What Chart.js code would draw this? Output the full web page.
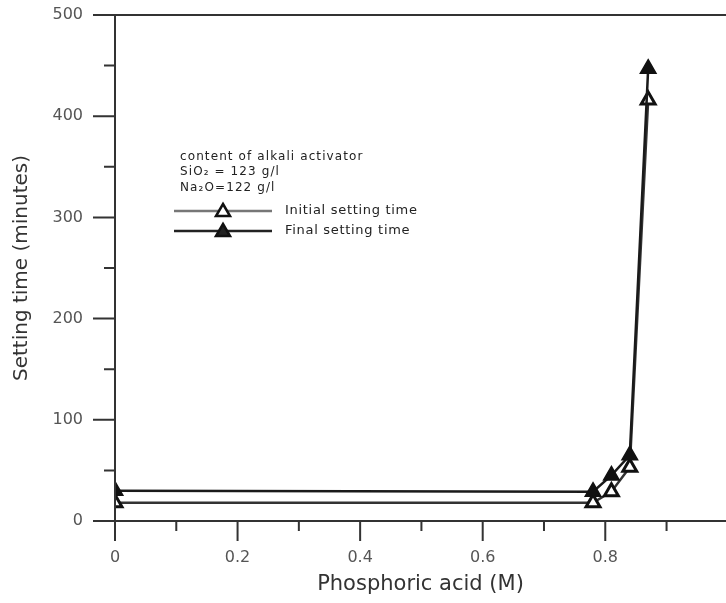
<!DOCTYPE html>
<html>
<head>
<meta charset="utf-8">
<script src="https://cdn.jsdelivr.net/npm/chart.js@4.4.1/dist/chart.umd.min.js"></script>
<style>
  html, body { margin: 0; padding: 0; background: #fff; }
  #wrap { width: 726px; height: 603px; }
</style>
</head>
<body>
<div id="wrap"><canvas id="grafico"></canvas></div>
<script>
// datos
const acidM = [0, 0.78, 0.81, 0.84, 0.87];
const initialTime = [18, 18, 29, 53, 416];
const finalTime = [30, 29, 45, 65, 447];
const xTicks = [0, 0.1, 0.2, 0.3, 0.4, 0.5, 0.6, 0.7, 0.8, 0.9];
const yTicks = [0, 50, 100, 150, 200, 250, 300, 350, 400, 450, 500];
const notes = ["content of alkali activator", "SiO\u2082 = 123 g/l", "Na\u2082O=122 g/l"];
const seriesNames = ["Initial setting time", "Final setting time"];

const FONT = "'DejaVu Sans', sans-serif";

function pts(ys) {
    return acidM.map((x, i) => ({ x: x, y: ys[i] }));
}

// ejes, marcas y leyenda dibujados a mano
const ejes = {
    id: "ejes",
    afterDraw(chart) {
        const c = chart.ctx;
        const xs = chart.scales.x, ys = chart.scales.y;
        const x0 = xs.getPixelForValue(0), y0 = ys.getPixelForValue(0);
        const yTop = ys.getPixelForValue(500);
        c.save();
        c.strokeStyle = "#333";
        c.lineWidth = 2;
        c.beginPath();
        // eje x y borde superior
        c.moveTo(x0, y0); c.lineTo(chart.width, y0);
        c.moveTo(x0, yTop); c.lineTo(chart.width, yTop);
        c.moveTo(x0, yTop); c.lineTo(x0, y0);
        c.stroke();
        c.beginPath();
        xTicks.forEach((v, i) => {
            const px = xs.getPixelForValue(v);
            const len = i % 2 === 0 ? 20 : 10;
            c.moveTo(px, y0); c.lineTo(px, y0 + len);
        });
        yTicks.forEach((v, i) => {
            const py = ys.getPixelForValue(v);
            const len = i % 2 === 0 ? 22 : 11;
            c.moveTo(x0, py); c.lineTo(x0 - len, py);
        });
        c.stroke();

        // leyenda
        c.fillStyle = "#222";
        c.textBaseline = "middle";
        c.font = "12px " + FONT;
        c.letterSpacing = "1.1px";
        c.fillText(notes[0], 180, 157);
        c.fillText(notes[1], 180, 172);
        c.fillText(notes[2], 180, 188);
        c.font = "13px " + FONT;
        c.letterSpacing = "0.7px";
        const rows = [
            { y: 211, color: "#777", fill: "#fff" },
            { y: 231, color: "#222", fill: "#222" }
        ];
        rows.forEach((r, i) => {
            c.strokeStyle = r.color;
            c.lineWidth = 2.5;
            c.beginPath();
            c.moveTo(174, r.y); c.lineTo(272, r.y);
            c.stroke();
            c.beginPath();
            c.moveTo(223, r.y - 7); c.lineTo(230, r.y + 5); c.lineTo(216, r.y + 5);
            c.closePath();
            c.fillStyle = r.fill;
            c.fill();
            c.strokeStyle = "#111";
            c.lineWidth = 2.5;
            c.stroke();
            c.fillStyle = "#222";
            c.fillText(seriesNames[i], 285, r.y);
        });
        c.restore();
    }
};

new Chart(document.getElementById("grafico"), {
    type: "line",
    data: {
        datasets: [{
            label: seriesNames[1],
            data: pts(finalTime),
            borderColor: "#1a1a1a",
            borderWidth: 2.5,
            pointStyle: "triangle",
            pointRadius: 9,
            pointBackgroundColor: "#111",
            pointBorderColor: "#111",
            pointBorderWidth: 1.5
        }, {
            label: seriesNames[0],
            data: pts(initialTime),
            borderColor: "#333",
            borderWidth: 2.5,
            pointStyle: "triangle",
            pointRadius: 8,
            pointBackgroundColor: "#fff",
            pointBorderColor: "#111",
            pointBorderWidth: 3
        }]
    },
    options: {
        responsive: true,
        maintainAspectRatio: false,
        animation: false,
        layout: { autoPadding: false, padding: { top: 15, right: 0, left: 0, bottom: 0 } },
        plugins: {
            legend: { display: false },
            tooltip: { enabled: false }
        },
        scales: {
            x: {
                type: "linear",
                min: 0,
                max: 0.997,
                afterBuildTicks: s => { s.ticks = xTicks.map(v => ({ value: v })); },
                afterFit: s => { s.height = 82; s.paddingLeft = 0; s.paddingRight = 0; },
                grid: { display: false, drawTicks: false },
                border: { display: false },
                ticks: {
                    autoSkip: false,
                    maxRotation: 0,
                    padding: 27,
                    color: "#555",
                    font: { family: FONT, size: 16 },
                    callback: (v, i) => i % 2 === 0 ? String(Math.round(v * 10) / 10) : ""
                },
                title: {
                    display: true,
                    text: "Phosphoric acid (M)",
                    color: "#333",
                    font: { family: FONT, size: 21 },
                    padding: { top: 0, bottom: 6 }
                }
            },
            y: {
                min: 0,
                max: 500,
                afterBuildTicks: s => { s.ticks = yTicks.map(v => ({ value: v })); },
                afterFit: s => { s.width = 115; s.paddingTop = 0; s.paddingBottom = 0; },
                grid: { display: false, drawTicks: false },
                border: { display: false },
                ticks: {
                    autoSkip: false,
                    padding: 32,
                    color: "#555",
                    font: { family: FONT, size: 16 },
                    callback: (v, i) => i % 2 === 0 ? String(v) : ""
                },
                title: {
                    display: true,
                    text: "Setting time (minutes)",
                    color: "#333",
                    font: { family: FONT, size: 20 },
                    padding: { top: 10, bottom: 0 }
                }
            }
        }
    },
    plugins: [ejes]
});
</script>
</body>
</html>
